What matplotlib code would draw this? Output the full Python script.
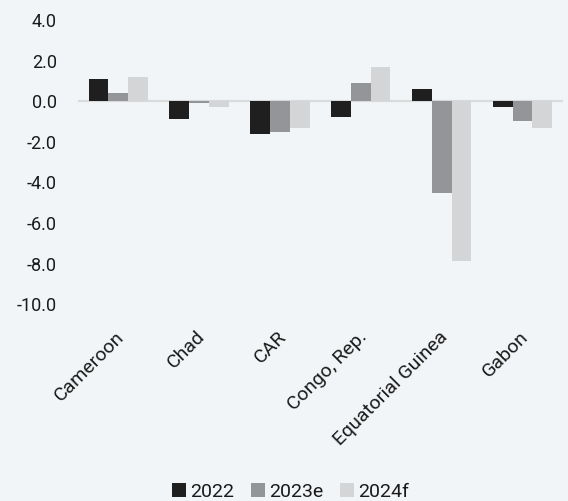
import numpy as np
import matplotlib.pyplot as plt
import matplotlib.transforms as mtransforms

countries = ["Cameroon", "Chad", "CAR", "Congo, Rep.", "Equatorial Guinea", "Gabon"]
series_names = ["2022", "2023e", "2024f"]
v2022 = [1.1, -0.9, -1.6, -0.8, 0.6, -0.3]
v2023 = [0.4, -0.1, -1.5, 0.9, -4.5, -1.0]
v2024 = [1.2, -0.3, -1.3, 1.7, -7.9, -1.3]
yticks = [4.0, 2.0, 0.0, -2.0, -4.0, -6.0, -8.0, -10.0]

colors = ["#1f1f1f", "#939598", "#d4d5d7"]
bg = "#f2f5f7"
txt = "#1a1a1a"

plt.rcParams['font.family'] = ['Roboto', 'DejaVu Sans']

fig = plt.figure(figsize=(5.68, 5.01), dpi=100, facecolor=bg)
ax = fig.add_axes([0.137, 0.393, 0.854, 0.567])
ax.set_facecolor(bg)

x = np.arange(len(countries))
w = 0.245
for i, (vals, name) in enumerate(zip([v2022, v2023, v2024], series_names)):
    ax.bar(x + (i - 1) * w, vals, width=w, color=colors[i], label=name, zorder=2)

ax.axhline(0, color="#d9dadb", linewidth=1.6, zorder=1)
ax.set_xlim(-0.5, len(countries) - 0.5)
ax.set_ylim(-10, 4)
ax.set_yticks(yticks)
ax.set_yticklabels([f"{t:.1f}" for t in yticks], fontsize=13, color=txt)
ax.set_xticks(x)
ax.set_xticklabels(countries, rotation=45, ha="right", rotation_mode="anchor",
                   fontsize=14, color=txt)
ax.tick_params(axis='both', length=0)
ax.tick_params(axis='y', pad=15)
ax.tick_params(axis='x', pad=17)
# nudge the rotated labels a little to the left
shift = mtransforms.ScaledTranslation(-3 / 100, 0, fig.dpi_scale_trans)
for lbl in ax.get_xticklabels():
    lbl.set_transform(lbl.get_transform() + shift)
for s in ax.spines.values():
    s.set_visible(False)

fig.legend(loc="center", bbox_to_anchor=(0.511, 0.018), ncol=3, frameon=False,
           fontsize=14, handlelength=0.72, handleheight=0.72, handletextpad=0.22,
           columnspacing=0.85, labelcolor=txt, borderpad=0)

fig.savefig("out.png", dpi=100, facecolor=bg)
